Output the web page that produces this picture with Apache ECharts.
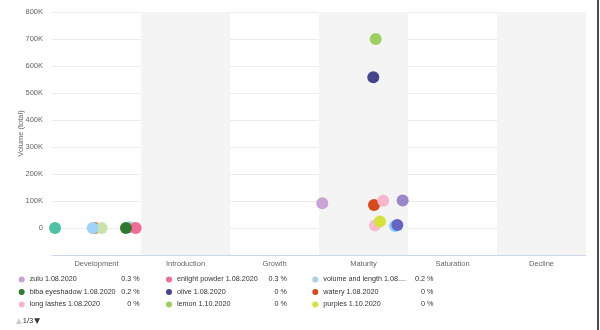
<!DOCTYPE html>
<html>
<head>
<meta charset="utf-8">
<script src="https://cdn.jsdelivr.net/npm/echarts@6/dist/echarts.min.js"></script>
<style>
  html, body { margin: 0; padding: 0; background: #fff; }
  #chart { width: 600px; height: 330px; }
</style>
</head>
<body>
<div id="chart"></div>
<script>
// Product life-cycle stages along the horizontal axis
const stages = ['Development', 'Introduction', 'Growth', 'Maturity', 'Saturation', 'Decline'];

// Volume axis ticks
const yTicks = [0, 100000, 200000, 300000, 400000, 500000, 600000, 700000, 800000];

// Series: name, colour, position within the stage scale (0..6), total volume
const seriesNames = [
  'volume and length 1.08.2020', 'enlight powder 1.08.2020', 'biba eyeshadow 1.08.2020',
  'series 10', 'series 11', 'series 12', 'series 13',
  'zulu 1.08.2020', 'watery 1.08.2020', 'long lashes 1.08.2020', 'series 14',
  'series 15', 'series 16', 'purples 1.10.2020', 'olive 1.08.2020', 'lemon 1.10.2020'
];
const seriesColors = [
  '#a9cfe6', '#f06b95', '#2e7a32',
  '#4fc1a4', '#ff5a26', '#c8e3a6', '#9fd3fb',
  '#c9a3d6', '#d9481c', '#f6b7cc', '#9b86c9',
  '#f8bbd0', '#81d4fa', '#d4e23a', '#46448e', '#9ccf5f'
];
const stagePos = [
  0.876, 0.94, 0.831,
  0.034, 0.483, 0.558, 0.457,
  3.037, 3.618, 3.722, 3.94,
  3.629, 3.854, 3.685, 3.61, 3.637
];
const volumes = [
  3000, 0, 0,
  0, 0, 0, 0,
  92000, 85000, 101000, 102000,
  9000, 7000, 24000, 558000, 700000
];
// Blue-violet point drawn on top of the cyan one
const extraNames = ['series 17'];
const extraColors = ['#6364c4'];
const extraPos = [3.88];
const extraVolumes = [11000];

// Legend page 1: three columns, shares in percent
const legendCols = [
  ['zulu 1.08.2020', 'biba eyeshadow 1.08.2020', 'long lashes 1.08.2020'],
  ['enlight powder 1.08.2020', 'olive 1.08.2020', 'lemon 1.10.2020'],
  ['volume and length 1.08.2020', 'watery 1.08.2020', 'purples 1.10.2020']
];
const legendShares = {
  'zulu 1.08.2020': '0.3 %', 'biba eyeshadow 1.08.2020': '0.2 %', 'long lashes 1.08.2020': '0 %',
  'enlight powder 1.08.2020': '0.3 %', 'olive 1.08.2020': '0 %', 'lemon 1.10.2020': '0 %',
  'volume and length 1.08.2020': '0.2 %', 'watery 1.08.2020': '0 %', 'purples 1.10.2020': '0 %'
};
const legendLefts = [18.7, 166, 312.3];

const FONT = 'Liberation Sans';

const allNames = seriesNames.concat(extraNames);
const allColors = seriesColors.concat(extraColors);
const allPos = stagePos.concat(extraPos);
const allVol = volumes.concat(extraVolumes);

const series = allNames.map((n, i) => ({
  name: n,
  type: 'scatter',
  xAxisIndex: 1,
  symbolSize: 12,
  itemStyle: { color: allColors[i], opacity: 1 },
  emphasis: { disabled: true },
  data: [[allPos[i], allVol[i]]]
}));

// Long names are cut short in the legend
function shortName(n) {
  return n.length > 24 ? n.slice(0, 22) + '....' : n;
}

const legends = legendCols.map((col, c) => ({
  orient: 'vertical',
  left: legendLefts[c],
  top: 276,
  padding: 0,
  itemWidth: 6,
  itemHeight: 6,
  itemGap: 5.5,
  icon: 'circle',
  selectedMode: false,
  data: col,
  formatter: n => '{n|' + shortName(n) + '}{p|' + legendShares[n] + '}',
  textStyle: {
    rich: {
      n: { width: 88, fontSize: 7.2, fontFamily: FONT, color: '#333', lineHeight: 9 },
      p: { width: 22, align: 'right', fontSize: 7.2, fontFamily: FONT, color: '#333', lineHeight: 9 }
    }
  }
}));

const chart = echarts.init(document.getElementById('chart'), null, { renderer: 'canvas' });
chart.setOption({
  animation: false,
  grid: { left: 52, right: 14, top: 12, bottom: 75 },
  xAxis: [
    {
      type: 'category',
      data: stages,
      boundaryGap: true,
      axisTick: { show: false },
      axisLine: { onZero: false, lineStyle: { color: '#ccd6eb' } },
      axisLabel: { color: '#666', fontSize: 7.5, fontFamily: FONT, margin: 5 },
      splitLine: { show: false },
      splitArea: { show: true, areaStyle: { color: ['rgba(255,255,255,0)', '#f4f4f4'] } }
    },
    { type: 'value', min: 0, max: 6, show: false }
  ],
  yAxis: {
    type: 'value',
    min: -100000,
    max: yTicks[yTicks.length - 1],
    interval: yTicks[1] - yTicks[0],
    name: 'Volume (total)',
    nameLocation: 'middle',
    nameGap: 27,
    nameMoveOverlap: false,
    nameTextStyle: { color: '#666', fontSize: 7.5, fontFamily: FONT },
    axisLine: { show: false },
    axisTick: { show: false },
    axisLabel: {
      color: '#666', fontSize: 7.5, fontFamily: FONT, margin: 9,
      formatter: v => (v < 0 ? '' : v === 0 ? '0' : (v / 1000) + 'K')
    },
    splitLine: { lineStyle: { color: '#ebebeb', width: 1 } }
  },
  legend: legends,
  series: series,
  graphic: [
    {
      type: 'text', left: 16, top: 317,
      style: {
        text: '{u|▲}{t|1/3}{d|▼}',
        rich: {
          u: { fill: '#cccccc', fontSize: 7.5, fontFamily: 'DejaVu Sans', padding: [0, 1, 0, 0] },
          t: { fill: '#333', fontSize: 7.5, fontFamily: FONT },
          d: { fill: '#333', fontSize: 7.5, fontFamily: 'DejaVu Sans', padding: [0, 0, 0, 1] }
        }
      }
    },
    {
      type: 'rect', left: 597, top: 0,
      shape: { width: 2, height: 330 },
      style: { fill: '#4a4a4a' }
    }
  ]
});
</script>
</body>
</html>
